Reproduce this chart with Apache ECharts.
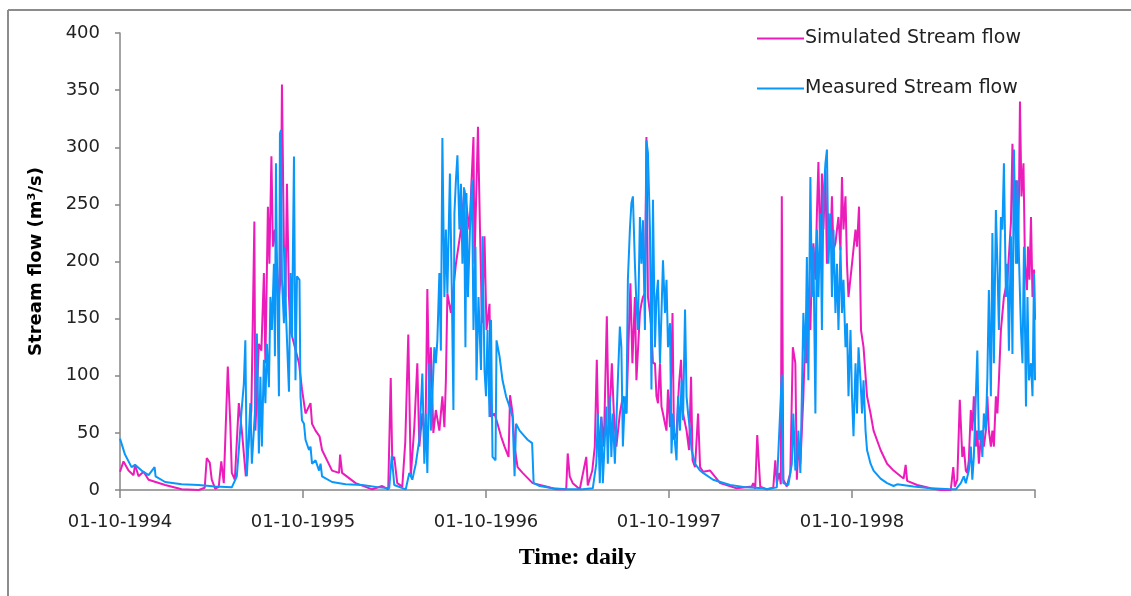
<!DOCTYPE html>
<html>
<head>
<meta charset="utf-8">
<script src="https://cdn.jsdelivr.net/npm/echarts@6/dist/echarts.min.js"></script>
<style>
html,body{margin:0;padding:0;background:#fff;}
#chart{width:1131px;height:596px;}
</style>
</head>
<body>
<div id="chart"></div>
<script>
// Day offsets counted from 01-10-1994, values in m3/s
var tickDays = [0, 365, 730, 1095, 1460, 1825];
var tickLabels = ['01-10-1994', '01-10-1995', '01-10-1996', '01-10-1997', '01-10-1998', ''];

var simDays = [0,7,17,27,30,37,47,57,90,123,157,169,173,179,183,190,197,202,207,215,220,223,229,237,243,251,
262,268,270,277,282,287,290,295,298,302,305,309,313,317,320,323,327,330,333,337,340,347,357,363,370,380,383,390,398,403,423,437,439,443,470,503,523,
535,540,543,547,553,563,569,575,580,587,593,597,603,609,613,617,620,625,630,637,643,647,650,653,660,670,680,687,697,705,707,714,718,722,727,731,737,740,747,753,760,767,775,778,783,
787,793,803,823,850,870,890,893,897,903,917,930,933,942,947,951,955,960,965,971,975,981,985,990,997,1003,1010,1013,1018,1022,1027,1030,
1037,1040,1043,1047,1050,1053,1057,1060,1063,1067,1070,1073,1077,1080,1083,1087,1090,1093,1097,1102,1105,1110,1115,1119,1123,1130,1135,1139,1142,1147,1153,1157,1163,1177,1197,1230,1260,1263,1267,1271,1277,
1290,1303,1307,1310,1315,1318,1320,1323,1330,1337,1342,1347,1350,1353,1357,1360,1363,1367,1370,1373,1377,1380,1383,1387,1390,1393,1397,1400,1403,1407,1410,1413,1417,1420,1423,1427,1430,1433,1437,1440,1443,1447,1450,1453,1460,1467,1470,1474,1478,1483,1490,1497,1503,1517,1530,1543,
1557,1563,1567,1570,1590,1617,1637,1657,1662,1665,1670,1675,1680,1683,1687,1690,1693,1697,1700,1703,1707,1710,1713,1717,1720,1723,1727,1730,1733,1737,1740,1743,1747,1750,1753,1757,1763,1770,1777,1780,1783,1787,1790,1793,1795,1798,1802,1805,1809,1811,1814,1817,1820,1823,1825];
var simulated = [16,25,17,13,22,12,16,9,4.4,0.6,0,2,28,24,9,1,3,25,6,108,58,15,9,76,52,12,
70,235,52,128,122,190,111,248,198,292,213,228,198,169,184,355,213,169,268,169,140,128,111,88,67,76,58,52,47,35,17,15,31,15,6,0.6,3.5,
0.6,98,26,29,6,3,42,136,12,55,111,38,67,38,176,82,125,50,70,52,82,55,96,172,155,198,228,263,228,309,198,318,228,146,222,140,163,64,67,58,47,38,29,83,67,
38,20,15,6,3,0.6,0.6,32,12,6,0.6,29,4,17,38,114,29,64,38,152,52,111,67,38,67,82,67,111,181,111,169,96,
155,163,169,172,309,169,155,140,111,111,82,76,111,73,67,58,52,88,55,155,44,50,93,114,67,52,35,99,26,20,67,20,16,17,6,1.5,3,6,1,48,3,
0.6,2,26,6,15,5,257,9,3,15,125,111,9,38,23,52,82,140,111,155,140,198,216,184,242,287,198,277,228,280,198,242,213,257,210,216,228,239,210,274,228,257,198,169,198,228,213,248,140,125,82,67,52,35,23,17,
12,10,22,8,4.4,1.5,0,0,20,3,9,79,29,38,17,15,26,70,52,82,38,52,23,47,52,38,52,82,52,38,52,38,82,67,96,140,169,184,234,303,228,271,198,257,340,257,286,198,175,213,184,239,169,193,149];

var measDays = [0,10,23,30,43,57,69,71,90,123,157,190,223,233,237,242,247,250,
253,260,263,269,273,277,280,283,287,290,293,297,300,303,307,309,311,313,317,319,321,323,327,329,331,337,340,343,347,350,353,358,360,363,367,370,377,380,383,390,397,400,403,423,450,483,517,
537,542,547,570,577,583,590,597,603,607,610,613,617,620,627,630,633,637,640,643,647,650,653,658,662,665,667,670,673,677,680,683,686,689,691,694,698,702,705,709,711,715,720,723,727,730,733,737,740,743,749,751,757,763,770,
777,783,787,790,797,807,813,822,825,837,863,890,923,943,950,953,957,960,963,970,973,977,980,983,987,993,997,1000,1003,1007,1010,1013,1017,1020,1023,1027,1030,
1033,1037,1040,1043,1047,1050,1053,1057,1060,1063,1067,1070,1073,1077,1080,1083,1087,1090,1093,1097,1100,1103,1107,1110,1113,1117,1120,1123,1127,1130,1133,1137,1140,1147,1157,1163,1183,1217,1250,1283,
1290,1310,1320,1323,1333,1340,1343,1347,1350,1353,1357,1360,1363,1367,1370,1373,1377,1380,1383,1387,1390,1393,1397,1400,1403,1407,1410,1413,1417,1420,1423,1427,1430,1433,1437,1440,1443,1447,1450,1453,1457,1460,1463,1467,1470,1473,1477,1480,1483,1487,1490,1497,1503,1517,1530,1543,
1550,1583,1617,1657,1667,1677,1683,1687,1693,1697,1700,1703,1707,1710,1713,1717,1720,1723,1727,1730,1733,1737,1740,1743,1747,1750,1753,1757,1760,1763,1767,1770,1773,1777,1780,1783,1787,1790,1793,1797,1800,1803,1807,1810,1813,1817,1820,1823,1825];
var measured = [45,31,20,22,17,13,20,12,7,5,4.4,3,2.3,12,35,67,93,131,
12,76,23,67,137,32,99,38,114,76,128,90,169,140,198,117,286,193,82,312,315,184,146,213,155,86,190,134,292,96,187,184,82,61,58,44,35,38,23,26,17,23,12,7,5,4.4,2.3,
1.5,30,4.4,0.6,15,9,23,44,102,23,67,15,111,52,125,111,131,190,122,308,169,228,172,277,169,70,242,271,293,228,268,198,265,125,260,169,228,271,140,213,96,169,105,222,105,82,140,64,149,29,26,131,117,96,82,
73,64,12,58,52,47,44,41,6,3.5,1.5,0.6,0.6,1.5,23,67,6,64,6,73,23,82,29,67,23,96,143,125,38,82,67,184,228,251,257,198,163,
140,239,198,236,140,306,295,228,88,254,125,169,184,111,155,201,155,184,125,146,32,67,41,26,82,52,96,61,158,82,67,52,35,23,17,15,9,4.4,2.3,1.5,
0.6,2.3,101,6,4.4,23,67,17,23,52,15,82,155,111,204,96,274,169,213,67,228,169,242,140,257,286,298,198,242,169,228,155,198,140,213,155,184,125,146,82,140,82,47,111,67,125,96,67,96,52,35,23,17,10,6,3.5,
5,3,1.5,0.6,0.6,6,12,6,17,38,9,29,82,122,44,52,29,67,52,99,175,82,225,111,245,198,140,239,228,286,169,198,122,222,119,298,198,271,204,140,111,213,73,169,96,111,82,190,96];

function pairs(days, vals) {
  var out = [];
  for (var i = 0; i < days.length; i++) out.push([days[i], vals[i]]);
  return out;
}

var chart = echarts.init(document.getElementById('chart'), null, {renderer: 'canvas'});
var axisColor = '#868686';
var textColor = '#222';

chart.setOption({
  animation: false,
  backgroundColor: '#fff',
  grid: {left: 120, right: 96, top: 33, bottom: 106, containLabel: false},
  legend: {
    orient: 'vertical',
    left: 752,
    top: 24,
    itemGap: 31,
    itemWidth: 47,
    itemHeight: 2,
    icon: 'rect',
    textStyle: {fontFamily: 'DejaVu Sans', fontSize: 19, color: textColor, padding: [0, 0, 0, -4]},
    data: ['Simulated Stream flow', 'Measured Stream flow']
  },
  xAxis: {
    type: 'value',
    min: 0,
    max: 1825,
    interval: 365,
    name: 'Time: daily',
    nameLocation: 'middle',
    nameGap: 56,
    nameTextStyle: {fontFamily: 'Liberation Serif', fontWeight: 'bold', fontSize: 24, color: '#000'},
    axisLine: {show: true, lineStyle: {color: axisColor, width: 1.5}},
    axisTick: {show: true, length: 8, lineStyle: {color: axisColor, width: 1.5}},
    splitLine: {show: false},
    axisLabel: {
      margin: 23,
      fontFamily: 'DejaVu Sans',
      fontSize: 18,
      color: textColor,
      showMaxLabel: true,
      formatter: function (v) {
        var idx = tickDays.indexOf(v);
        return idx >= 0 ? tickLabels[idx] : '';
      }
    }
  },
  yAxis: {
    type: 'value',
    min: 0,
    max: 400,
    interval: 50,
    name: 'Stream flow (m³/s)',
    nameLocation: 'middle',
    nameRotate: 90,
    nameGap: 75,
    nameTextStyle: {fontFamily: 'DejaVu Sans', fontWeight: 'bold', fontSize: 18, color: '#000'},
    axisLine: {show: true, lineStyle: {color: axisColor, width: 1.5}},
    axisTick: {show: true, inside: false, length: 5, lineStyle: {color: axisColor, width: 1.5}},
    splitLine: {show: false},
    axisLabel: {margin: 20, fontFamily: 'DejaVu Sans', fontSize: 18, color: textColor}
  },
  graphic: [
    {type: 'line', shape: {x1: 8, y1: 10, x2: 8, y2: 596}, style: {stroke: '#8c8c8c', lineWidth: 2}},
    {type: 'line', shape: {x1: 8, y1: 10, x2: 1131, y2: 10}, style: {stroke: '#8c8c8c', lineWidth: 2}}
  ],
  series: [
    {
      name: 'Simulated Stream flow',
      type: 'line',
      data: pairs(simDays, simulated),
      showSymbol: false,
      symbol: 'none',
      lineStyle: {color: '#EC1CBA', width: 2},
      itemStyle: {color: '#EC1CBA'},
      z: 2
    },
    {
      name: 'Measured Stream flow',
      type: 'line',
      data: pairs(measDays, measured),
      showSymbol: false,
      symbol: 'none',
      lineStyle: {color: '#0A97FA', width: 2},
      itemStyle: {color: '#0A97FA'},
      z: 3
    }
  ]
});
</script>
</body>
</html>
